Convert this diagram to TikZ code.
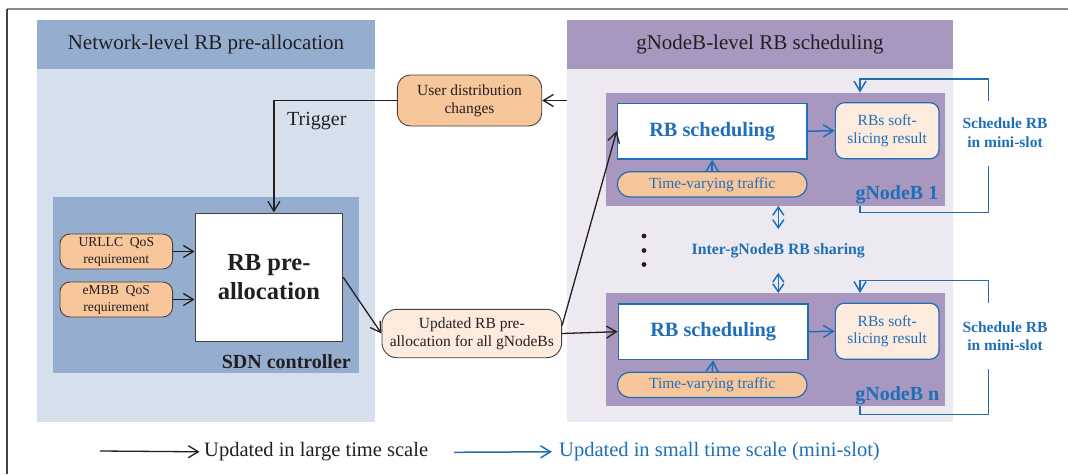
\documentclass[tikz,border=0pt]{standalone}
\usepackage{fontspec}
\setmainfont{Liberation Serif}
\usetikzlibrary{arrows.meta}
\definecolor{ink}{HTML}{231F20}
\definecolor{hdrblue}{HTML}{95AECF}
\definecolor{paleblue}{HTML}{D6E0EC}
\definecolor{hdrpurple}{HTML}{A898C0}
\definecolor{palepurple}{HTML}{ECE9F1}
\definecolor{orng}{HTML}{F8C69B}
\definecolor{peach}{HTML}{FDEBDD}
\definecolor{myblue}{HTML}{1F6FB8}
\definecolor{framegray}{HTML}{8A8A8A}
\newcommand\fsz[2]{\fontsize{#1}{#2}\selectfont}
\tikzset{
  tipk/.tip={Straight Barb[length=10pt,width=12pt]},
  blk/.style={draw=ink, line width=1.3pt, -tipk},
  bl/.style={draw=myblue, line width=1.5pt},
  blarr/.style={bl, -tipk},
  bldbl/.style={bl, {Straight Barb[length=8pt,width=11pt]}-{Straight Barb[length=8pt,width=11pt]}},
  req/.style={draw=ink!85, line width=0.9pt, fill=orng, rounded corners=10pt,
    minimum width=112.7pt, minimum height=35pt, align=center, font=\fsz{13.6}{17}},
  schedbox/.style={draw=myblue, line width=1.4pt, fill=white, minimum width=189.7pt,
    minimum height=55.7pt, font=\bfseries\fsz{20.3}{24}, text=myblue},
  softbox/.style={draw=myblue, line width=1.2pt, fill=peach, rounded corners=9pt,
    minimum width=103.7pt, minimum height=56pt, align=center, font=\fsz{15.5}{17.6}, text=myblue},
  trafbox/.style={draw=myblue, line width=1.2pt, fill=orng, rounded corners=12.6pt,
    minimum width=189.7pt, minimum height=25.3pt, font=\fsz{15.5}{18}, text=myblue},
  gnbbox/.style={fill=hdrpurple, minimum width=339.3pt, minimum height=113pt},
  gnblbl/.style={anchor=base east, font=\bfseries\fsz{20}{24}, text=myblue},
  looptxt/.style={align=center, font=\bfseries\fsz{15.5}{18.5}, text=myblue}
}
\begin{document}
\begin{tikzpicture}[x=1pt,y=-1pt, every node/.style={inner sep=0pt, text=ink}]
\useasboundingbox (0,0) rectangle (1068,474);

% frame
\coordinate (fTL) at (7,9);
\coordinate (fTR) at (1068,9);
\coordinate (fBL) at (7,474);
\draw[framegray, line width=2pt] (fTL) -- (fTR);
\draw[ink!85, line width=1.3pt] (fTL) -- (fBL);

% network-level panel
\node[fill=paleblue, minimum width=338pt, minimum height=402pt] (netpanel) at (206,221) {};
\node[fill=hdrblue, minimum width=338pt, minimum height=49pt, font=\fsz{21}{25}] (nethdr) at (206,44.5) {Network-level RB pre-allocation};
\node[fill=hdrblue, minimum width=306pt, minimum height=176pt] (sdn) at (206,285) {};
\node[anchor=base east, font=\bfseries\fsz{20}{24}] (sdnlbl) at (351,368.3) {SDN controller};
\node[draw=ink!85, line width=0.9pt, fill=white, minimum width=147.7pt, minimum height=128.7pt,
  align=center, font=\bfseries\fsz{24.5}{29}] (prealloc) at (268.9,277.3) {RB pre-\\allocation};
\node[req] (urllc) at (116.3,251.5) {URLLC\ \ QoS\\requirement};
\node[req] (embb) at (116.3,299.5) {eMBB\ \ QoS\\requirement};
\draw[blk] (urllc.east) -- (urllc.east -| prealloc.west);
\draw[blk] (embb.east) -- (embb.east -| prealloc.west);

% gNodeB-level panel
\node[fill=palepurple, minimum width=385.7pt, minimum height=401.7pt] (gnbpanel) at (759.9,220.9) {};
\node[fill=hdrpurple, minimum width=385.7pt, minimum height=49pt, font=\fsz{21}{25}] (gnbhdr) at (759.9,44.5) {gNodeB-level RB scheduling};

% trigger path
\node[draw=ink!85, line width=0.9pt, fill=orng, rounded corners=13pt, minimum width=144.4pt,
  minimum height=51pt, align=center, font=\fsz{15.5}{18}] (userdist) at (469.5,100.5) {User distribution\\changes};
\draw[blk] (gnbpanel.west |- userdist.east) -- (userdist.east);
\draw[blk] (userdist.west) -| ([xshift=5pt]prealloc.north);
\node[anchor=base west, font=\fsz{20}{24}] (trig) at (287,125.7) {Trigger};

% pre-allocation result
\node[draw=ink!85, line width=0.9pt, fill=peach, rounded corners=15pt, minimum width=179.7pt,
  minimum height=48.4pt, align=center, font=\fsz{15.5}{18}] (updated) at (471.8,333.5) {Updated RB pre-\\allocation for all gNodeBs};
\draw[blk] (prealloc.east) -- (updated.west);

% gNodeB 1
\node[gnbbox] (gnb1) at (775.4,149.2) {};
\node[schedbox] (rbs1) at (712.2,131.2) {RB scheduling};
\node[softbox] (soft1) at (887.2,130.7) {RBs soft-\\slicing result};
\node[trafbox] (traf1) at (712.2,184.4) {Time-varying traffic};
\node[gnblbl] (gnb1lbl) at (938.5,199.5) {gNodeB 1};
\draw[blarr] (rbs1.east) -- (soft1.west);
\draw[blarr] (traf1.north) -- (rbs1.south);

% gNodeB n
\node[gnbbox] (gnbn) at (775.4,349.7) {};
\node[schedbox] (rbsn) at (713.2,331.7) {RB scheduling};
\node[softbox] (softn) at (887.2,331.2) {RBs soft-\\slicing result};
\node[trafbox] (trafn) at (712.2,384.9) {Time-varying traffic};
\node[gnblbl] (gnbnlbl) at (939.5,400.5) {gNodeB n};
\draw[blarr] (rbsn.east) -- (softn.west);
\draw[blarr] (trafn.north) -- (rbsn.south);

% distribution to gNodeBs
\draw[blk] ([yshift=8pt]updated.east) -- (rbs1.west);
\draw[blk] (updated.east) -- (rbsn.west);

% sharing between gNodeBs
\node[font=\bfseries\fsz{15.8}{19}, text=myblue, minimum height=43.4pt] (share) at (778.3,250.9) {Inter-gNodeB RB sharing};
\draw[bldbl] (gnb1.south -| share.north) -- (share.north);
\draw[bldbl] (share.south) -- (gnbn.north -| share.south);
\fill[ink] (644,236) circle[radius=2.4pt] (644,250.5) circle[radius=2.4pt] (644,264.5) circle[radius=2.4pt];

% mini-slot scheduling loops
\coordinate (kx) at (860,0);
\coordinate (l1a) at (988.3,166);
\coordinate (l1b) at (988.3,100.7);
\draw[bl] (kx |- gnb1.south) -- ++(0,6.6) -| (l1a);
\draw[blarr] (l1b) -- ++(0,-21.7) -| (kx |- gnb1.north);
\node[looptxt] (loop1) at (1005,132.5) {Schedule RB\\in mini-slot};
\coordinate (lna) at (988.3,369);
\coordinate (lnb) at (988.3,303.3);
\draw[bl] (kx |- gnbn.south) -- ++(0,8.1) -| (lna);
\draw[blarr] (lnb) -- ++(0,-22.6) -| (kx |- gnbn.north);
\node[looptxt] (loopn) at (1005,336) {Schedule RB\\in mini-slot};

% legend
\coordinate (lgA) at (100,451);
\node[anchor=base west, font=\fsz{20.5}{24}] (legL) at (204,456.7) {Updated in large time scale};
\draw[blk] (lgA) -- ([xshift=-4.5pt]legL.west);
\coordinate (lgB) at (454,452.3);
\node[anchor=base west, font=\fsz{20.5}{24}, text=myblue] (legS) at (559,456.7) {Updated in small time scale (mini-slot)};
\draw[blarr] (lgB) -- ([xshift=-7pt]legS.west);
\end{tikzpicture}
\end{document}
